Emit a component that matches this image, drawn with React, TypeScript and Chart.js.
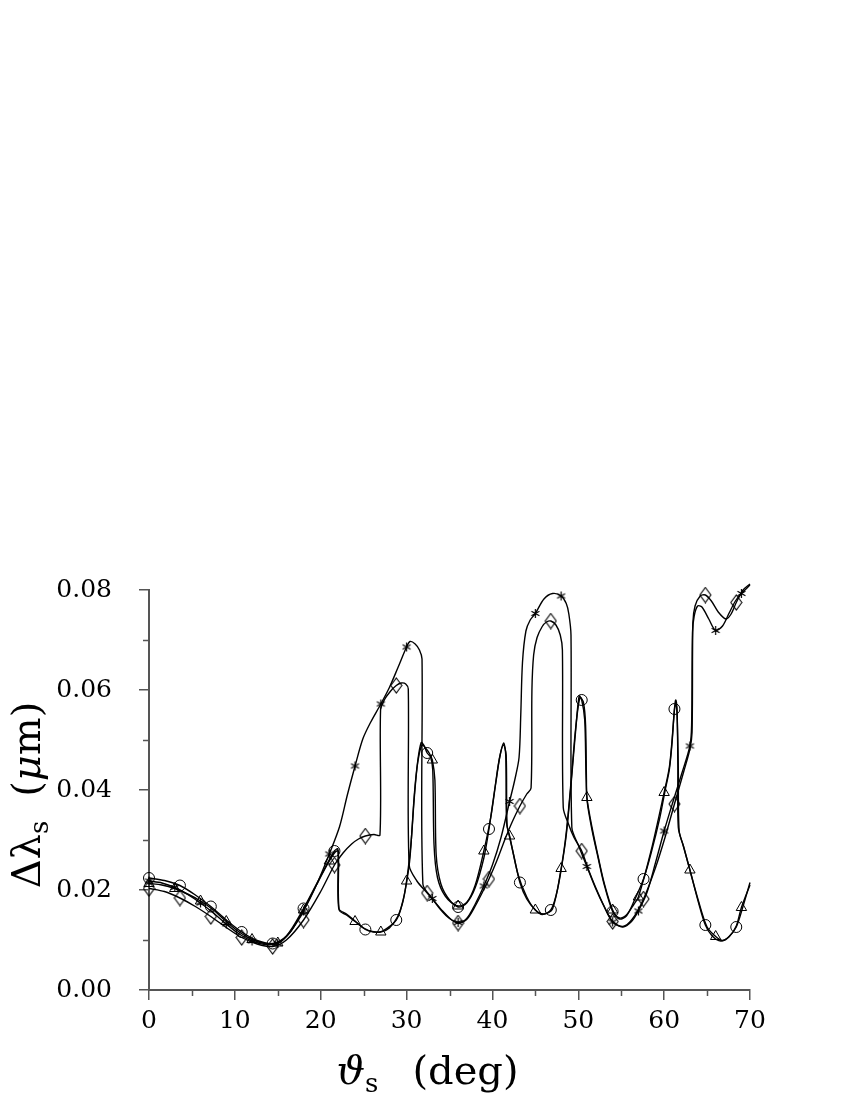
import React, { useEffect, useRef } from "react";
import { Chart, registerables } from "chart.js";

Chart.register(...registerables);

// ---- Data ----
const X_MIN = 0;
const X_MAX = 70;
const Y_MIN = 0;
const Y_MAX = 0.08;
const X_MINOR_TICKS = [5, 15, 25, 35, 45, 55, 65];
const Y_MINOR_TICKS = [0.01, 0.03, 0.05, 0.07];

const X_TITLE = ["ϑ", "s", "(deg)"];
const Y_TITLE = ["Δλ", "s", "(", "μ", "m)"];

// curve with circle markers (family A, upper)
const CIRCLE_CURVE: [number, number][] = [
  [0, 0.0224], [1.8, 0.0219], [3.6, 0.0209], [5.4, 0.019], [7.2, 0.0167], [9, 0.014], [10.8, 0.0116],
  [12.6, 0.0099], [14.4, 0.0093], [16, 0.0108], [18, 0.0163], [20, 0.0228], [21.6, 0.0278], [22.0, 0.0282],
  [22.1, 0.0163], [23, 0.0152], [24, 0.0138], [25.2, 0.0121], [26.2, 0.0116], [27.2, 0.0118], [28.8, 0.014],
  [29.5, 0.0172], [30, 0.0215], [30.4, 0.0265], [30.9, 0.039], [31.3, 0.0458], [31.7, 0.0495], [32, 0.049],
  [32.4, 0.0474], [32.8, 0.0466], [33.05, 0.044], [33.2, 0.029], [33.6, 0.0225], [34.5, 0.0188], [36, 0.0166],
  [37, 0.0174], [38, 0.0205], [39, 0.0264], [39.6, 0.0322], [40.3, 0.0405], [40.8, 0.0462], [41.3, 0.0494],
  [41.55, 0.047], [41.65, 0.0335], [42, 0.0306], [42.5, 0.0268], [43.2, 0.0215], [44, 0.0182], [45, 0.016],
  [45.8, 0.0151], [46.8, 0.016], [47.5, 0.0195], [48, 0.024], [48.6, 0.031], [49.2, 0.042], [49.7, 0.052],
  [50.1, 0.0588], [50.4, 0.058], [50.75, 0.054], [50.9, 0.043], [51.05, 0.0375], [51.6, 0.032], [52.3, 0.0265],
  [53, 0.0212], [54, 0.0157], [54.8, 0.0142], [55.6, 0.0148], [56.5, 0.0178], [57.6, 0.0222], [58.5, 0.0275],
  [59.5, 0.0345], [60.1, 0.0398], [60.6, 0.044], [60.9, 0.049], [61.2, 0.0562], [61.35, 0.058], [61.5, 0.056],
  [61.6, 0.045], [61.65, 0.0325], [62.2, 0.029], [63, 0.024], [64, 0.0175], [64.8, 0.013], [65.6, 0.0108],
  [66.6, 0.0098], [67.5, 0.0106], [68.4, 0.0126], [69.2, 0.0168], [70, 0.0215],
];

// curve with triangle markers (family A, lower)
const TRIANGLE_CURVE: [number, number][] = [
  [0, 0.0213], [1.5, 0.021], [3, 0.0203], [4.5, 0.0192], [6, 0.0178], [7.5, 0.016], [9, 0.0137], [10.5, 0.0116],
  [12, 0.0101], [13.5, 0.0093], [15, 0.0094], [16.5, 0.0117], [18, 0.016], [19.5, 0.021], [21, 0.0258],
  [21.7, 0.0276], [22.05, 0.0278], [22.15, 0.016], [23, 0.015], [24, 0.0137], [25, 0.0124], [26, 0.0117],
  [27, 0.0116], [28, 0.0124], [29, 0.0148], [29.6, 0.018], [30, 0.0218], [30.5, 0.029], [30.9, 0.0385],
  [31.3, 0.0455], [31.8, 0.049], [32.3, 0.0482], [32.7, 0.0472], [33, 0.046], [33.3, 0.042], [33.45, 0.027],
  [34, 0.0212], [35, 0.018], [36, 0.0168], [37, 0.0175], [38, 0.021], [39, 0.0278], [39.8, 0.0345],
  [40.4, 0.0415], [40.9, 0.047], [41.3, 0.049], [41.6, 0.047], [41.7, 0.033], [42, 0.0308], [43, 0.023],
  [44, 0.0186], [45, 0.016], [46, 0.0152], [47, 0.0162], [48, 0.0243], [48.6, 0.0315], [49.2, 0.0425],
  [49.7, 0.0525], [50.2, 0.0585], [50.6, 0.0575], [50.85, 0.053], [50.95, 0.042], [51, 0.0385], [51.6, 0.0325],
  [52.3, 0.0268], [53, 0.0215], [54, 0.016], [54.8, 0.0144], [55.6, 0.015], [56.5, 0.0172], [57, 0.0186],
  [58.5, 0.028], [60, 0.0395], [60.6, 0.0445], [60.9, 0.0495], [61.2, 0.056], [61.35, 0.0572], [61.5, 0.0555],
  [61.65, 0.044], [61.75, 0.0318], [62.3, 0.0285], [63, 0.024], [64, 0.0178], [65, 0.0126], [66, 0.0107],
  [66.8, 0.0099], [67.6, 0.0107], [68.4, 0.0128], [69, 0.0165], [70, 0.021],
];

// curve with diamond markers (family B, inner)
const DIAMOND_CURVE: [number, number][] = [
  [0, 0.0203], [1.8, 0.0197], [3.6, 0.0184], [5.4, 0.0167], [7.2, 0.0147], [9, 0.0125], [10.8, 0.0105],
  [12.6, 0.0092], [14.4, 0.0087], [16, 0.01], [18, 0.014], [20, 0.0197], [21.6, 0.025], [22.6, 0.0274],
  [23.6, 0.0292], [24.4, 0.0302], [25.2, 0.0308], [26.2, 0.0311], [26.9, 0.031], [26.97, 0.056], [27.4, 0.058],
  [28.1, 0.0597], [28.8, 0.0609], [29.4, 0.0614], [29.9, 0.0612], [30.2, 0.0602], [30.3, 0.025], [31.2, 0.0218],
  [32.4, 0.0194], [33.2, 0.0178], [34.2, 0.0158], [35.2, 0.0141], [36, 0.0134], [37, 0.0141], [38, 0.0168],
  [39, 0.0201], [39.6, 0.0222], [40.5, 0.0258], [41.5, 0.0303], [42.3, 0.0336], [43.2, 0.0368], [44, 0.0392],
  [44.5, 0.0404], [44.6, 0.06], [44.8, 0.067], [45.2, 0.0705], [45.8, 0.0727], [46.3, 0.0736], [46.8, 0.0738],
  [47.4, 0.073], [47.9, 0.071], [48.15, 0.068], [48.25, 0.0365], [48.9, 0.033], [49.5, 0.0305], [50.4, 0.0278],
  [51.2, 0.024], [52, 0.0206], [53, 0.0168], [54, 0.0137], [55.2, 0.0127], [56.3, 0.0142], [57.6, 0.0182],
  [59, 0.0245], [60.1, 0.0305], [61.2, 0.0372], [62.3, 0.0438], [63, 0.0482], [63.25, 0.0515], [63.35, 0.0735],
  [63.6, 0.0768], [64.2, 0.0788], [64.8, 0.079], [65.5, 0.0778], [66.3, 0.0756], [67.2, 0.0742], [67.8, 0.0752],
  [68.4, 0.0775], [69.2, 0.08], [70, 0.0812],
];

// curve with asterisk markers (family B, outer)
const ASTERISK_CURVE: [number, number][] = [
  [0, 0.0218], [1.5, 0.0214], [3, 0.0205], [4.5, 0.0191], [6, 0.0174], [7.5, 0.0154], [9, 0.0132], [10.5, 0.0112],
  [12, 0.0098], [13.5, 0.0091], [15, 0.0093], [16.5, 0.0117], [18, 0.0158], [19.5, 0.021], [21, 0.0272],
  [22.2, 0.0327], [23.1, 0.039], [24, 0.0448], [24.9, 0.0502], [25.8, 0.0535], [27, 0.0572], [28, 0.0605],
  [29, 0.0645], [30, 0.0686], [30.4, 0.0697], [31, 0.0692], [31.5, 0.068], [31.8, 0.0662], [31.9, 0.0212],
  [33, 0.0183], [34, 0.016], [35, 0.0143], [36, 0.0135], [37, 0.0143], [38, 0.0172], [39, 0.0208], [40, 0.025],
  [41, 0.0305], [42, 0.0377], [42.6, 0.042], [43.1, 0.0465], [43.3, 0.055], [43.5, 0.0655], [43.9, 0.0718],
  [44.4, 0.074], [45, 0.0753], [46, 0.0782], [47, 0.0793], [48, 0.0788], [48.6, 0.0773], [48.9, 0.0752],
  [49.15, 0.071], [49.25, 0.0325], [50, 0.029], [51, 0.0247], [52, 0.0204], [53, 0.0167], [54, 0.0136],
  [55.2, 0.0126], [56.2, 0.0137], [57, 0.0158], [58, 0.0195], [59, 0.0255], [60, 0.0318], [61, 0.0375],
  [62, 0.043], [63, 0.0488], [63.2, 0.053], [63.3, 0.0715], [63.5, 0.0748], [63.9, 0.0768], [64.4, 0.0766],
  [65.2, 0.0742], [66, 0.0719], [66.8, 0.0728], [67.6, 0.0755], [68.3, 0.0778], [69, 0.0793], [70, 0.081],
];

// marker positions (x values along each curve)
const CIRCLE_MARKS = [0, 3.6, 7.2, 10.8, 14.4, 18, 21.6, 25.2, 28.8, 32.4, 36, 39.6, 43.2, 46.8, 50.4, 54, 57.6, 61.2, 64.8, 68.4];
const DIAMOND_MARKS = [0, 3.6, 7.2, 10.8, 14.4, 18, 21.6, 25.2, 28.8, 32.4, 36, 39.6, 43.2, 46.8, 50.4, 54, 57.6, 61.2, 64.8, 68.4];
const TRIANGLE_MARKS = [0, 3, 6, 9, 12, 15, 18, 21, 24, 27, 30, 33, 36, 39, 42, 45, 48, 51, 54, 57, 60, 63, 66, 69];
const ASTERISK_MARKS = [0, 3, 6, 9, 12, 15, 18, 21, 24, 27, 30, 33, 36, 39, 42, 45, 48, 51, 54, 57, 60, 63, 66, 69];

// ---- Styling ----
const AXIS_COLOR = "#555555";
const SERIF = "'DejaVu Serif', serif";

function makeDiamond(): HTMLCanvasElement {
  const c = document.createElement("canvas");
  c.width = 13;
  c.height = 17;
  const g = c.getContext("2d")!;
  g.strokeStyle = "#000";
  g.lineWidth = 1.1;
  g.beginPath();
  g.moveTo(6.5, 1);
  g.lineTo(12, 8.5);
  g.lineTo(6.5, 16);
  g.lineTo(1, 8.5);
  g.closePath();
  g.stroke();
  return c;
}

function makeAsterisk(): HTMLCanvasElement {
  const c = document.createElement("canvas");
  c.width = 11;
  c.height = 11;
  const g = c.getContext("2d")!;
  g.strokeStyle = "#000";
  g.lineWidth = 1.2;
  const r = 4.6;
  g.beginPath();
  for (const a of [90, 30, -30]) {
    const rad = (a * Math.PI) / 180;
    g.moveTo(5.5 - Math.cos(rad) * r, 5.5 + Math.sin(rad) * r);
    g.lineTo(5.5 + Math.cos(rad) * r, 5.5 - Math.sin(rad) * r);
  }
  g.stroke();
  return c;
}

type Part = { text: string; font: string; dy?: number; gapBefore?: number };

function drawParts(ctx: CanvasRenderingContext2D, parts: Part[], cx: number, y: number) {
  let total = 0;
  const widths: number[] = [];
  for (const p of parts) {
    ctx.font = p.font;
    const w = ctx.measureText(p.text).width;
    widths.push(w);
    total += w + (p.gapBefore || 0);
  }
  let x = cx - total / 2;
  parts.forEach((p, i) => {
    x += p.gapBefore || 0;
    ctx.font = p.font;
    ctx.fillText(p.text, x, y + (p.dy || 0));
    x += widths[i];
  });
}

const decorPlugin = {
  id: "decor",
  afterDraw(chart: any) {
    const ctx: CanvasRenderingContext2D = chart.ctx;
    const area = chart.chartArea;
    const xs = chart.scales.x;
    const ys = chart.scales.y;
    ctx.save();
    // minor ticks
    ctx.strokeStyle = AXIS_COLOR;
    ctx.lineWidth = 1.5;
    ctx.beginPath();
    for (const v of X_MINOR_TICKS) {
      const px = Math.round(xs.getPixelForValue(v)) + 0.5;
      ctx.moveTo(px, area.bottom);
      ctx.lineTo(px, area.bottom + 6);
    }
    for (const v of Y_MINOR_TICKS) {
      const py = Math.round(ys.getPixelForValue(v)) + 0.5;
      ctx.moveTo(area.left - 6, py);
      ctx.lineTo(area.left, py);
    }
    ctx.stroke();

    // axis titles
    ctx.fillStyle = "#000";
    ctx.textBaseline = "alphabetic";
    const big = `40px ${SERIF}`;
    const bigIt = `italic 40px ${SERIF}`;
    const small = `26px ${SERIF}`;
    drawParts(
      ctx,
      [
        { text: X_TITLE[0], font: bigIt },
        { text: X_TITLE[1], font: small, dy: 8 },
        { text: X_TITLE[2], font: big, gapBefore: 34 },
      ],
      (area.left + area.right) / 2 - 22,
      1084
    );
    ctx.translate(40, (area.top + area.bottom) / 2 + 5);
    ctx.rotate(-Math.PI / 2);
    drawParts(
      ctx,
      [
        { text: Y_TITLE[0], font: big },
        { text: Y_TITLE[1], font: small, dy: 8 },
        { text: Y_TITLE[2], font: big, gapBefore: 24 },
        { text: Y_TITLE[3], font: bigIt },
        { text: Y_TITLE[4], font: big },
      ],
      0,
      0
    );
    ctx.restore();
  },
};

const toPts = (arr: [number, number][]) => arr.map(([x, y]) => ({ x, y }));
const markRadius = (marks: number[], r: number) => (ctx: any) => {
  const raw = ctx.raw;
  if (!raw) return 0;
  return marks.indexOf(raw.x) >= 0 ? r : 0;
};

export default function App() {
  const ref = useRef<HTMLCanvasElement | null>(null);

  useEffect(() => {
    if (!ref.current) return;
    const diamond = makeDiamond();
    const asterisk = makeAsterisk();
    const common = {
      borderColor: "#000",
      borderWidth: 1.4,
      tension: 0.3,
      fill: false,
      clip: 12,
      pointBorderColor: "#000",
      pointBackgroundColor: "rgba(0,0,0,0)",
      pointBorderWidth: 1,
      pointHoverRadius: 0,
    };
    const chart = new Chart(ref.current, {
      type: "line",
      data: {
        datasets: [
          {
            ...common,
            label: "circle",
            data: toPts(CIRCLE_CURVE),
            pointStyle: "circle",
            pointRadius: markRadius(CIRCLE_MARKS, 5.5),
          },
          {
            ...common,
            label: "triangle",
            data: toPts(TRIANGLE_CURVE),
            pointStyle: "triangle",
            pointRadius: markRadius(TRIANGLE_MARKS, 6),
          },
          {
            ...common,
            label: "diamond",
            data: toPts(DIAMOND_CURVE),
            pointStyle: diamond,
            pointRadius: markRadius(DIAMOND_MARKS, 6),
          },
          {
            ...common,
            label: "asterisk",
            data: toPts(ASTERISK_CURVE),
            pointStyle: asterisk,
            pointRadius: markRadius(ASTERISK_MARKS, 5),
          },
        ] as any,
      },
      options: {
        animation: false,
        responsive: false,
        maintainAspectRatio: false,
        events: [],
        layout: { padding: { left: 0, right: 100, top: 590, bottom: 0 } },
        plugins: {
          legend: { display: false },
          tooltip: { enabled: false },
          title: { display: false },
        },
        scales: {
          x: {
            type: "linear",
            min: X_MIN,
            max: X_MAX,
            afterFit: (s: any) => {
              s.height = 110;
            },
            ticks: {
              stepSize: 10,
              color: "#000",
              font: { family: SERIF, size: 25 },
              padding: 6,
              maxRotation: 0,
            },
            grid: {
              display: true,
              drawOnChartArea: false,
              drawTicks: true,
              tickLength: 10,
              color: AXIS_COLOR,
              lineWidth: 1.5,
            },
            border: { display: true, color: AXIS_COLOR, width: 2 },
          },
          y: {
            type: "linear",
            min: Y_MIN,
            max: Y_MAX,
            afterFit: (s: any) => {
              s.width = 149;
            },
            ticks: {
              stepSize: 0.02,
              color: "#000",
              font: { family: SERIF, size: 25 },
              padding: 27,
              callback: (v: any) => Number(v).toFixed(2),
            },
            grid: {
              display: true,
              drawOnChartArea: false,
              drawTicks: true,
              tickLength: 10,
              color: AXIS_COLOR,
              lineWidth: 1.5,
            },
            border: { display: true, color: AXIS_COLOR, width: 2 },
          },
        },
      } as any,
      plugins: [decorPlugin],
    });
    return () => chart.destroy();
  }, []);

  return (
    <div style={{ position: "absolute", left: 0, top: 0, width: 850, height: 1100, background: "#fff" }}>
      <canvas ref={ref} width={850} height={1100} style={{ width: 850, height: 1100, display: "block" }} />
    </div>
  );
}
